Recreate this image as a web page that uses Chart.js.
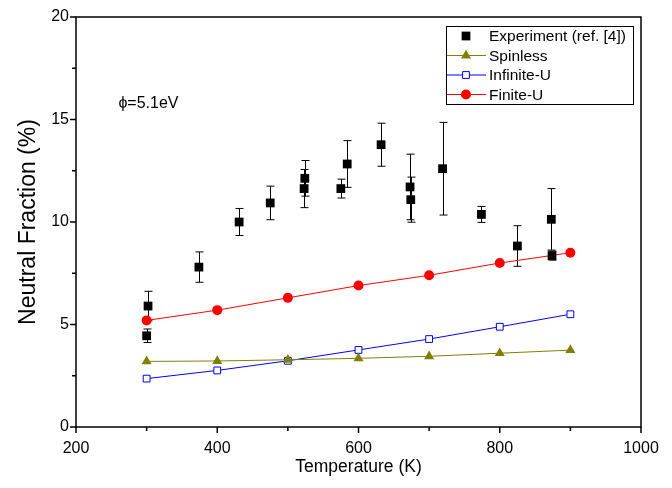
<!DOCTYPE html>
<html>
<head>
<meta charset="utf-8">
<title>Neutral Fraction vs Temperature</title>
<script src="https://cdn.jsdelivr.net/npm/chart.js"></script>
<style>
  html, body { margin: 0; padding: 0; background: #fff; }
</style>
</head>
<body>
<canvas id="nfChart" width="672" height="488"></canvas>
<script>
// model curves, one value per temperature
const temps = [300, 400, 500, 600, 700, 800, 900];
const spinless = [3.2, 3.22, 3.28, 3.35, 3.45, 3.6, 3.75];
const infiniteU = [2.36, 2.76, 3.23, 3.76, 4.29, 4.89, 5.5];
const finiteU = [5.2, 5.7, 6.3, 6.9, 7.4, 8.0, 8.5];

// measured points with symmetric error bars
const expTemps = [300, 302, 374, 431, 475, 523, 524, 575, 584, 632, 673, 674, 719, 774, 825, 873, 874];
const expValues = [4.45, 5.9, 7.8, 10.0, 10.93, 11.63, 12.13, 11.63, 12.83, 13.77, 11.71, 11.09, 12.6, 10.37, 8.83, 10.13, 8.36];
const expErrors = [0.33, 0.72, 0.74, 0.66, 0.82, 0.93, 0.87, 0.46, 1.14, 1.05, 1.6, 1.1, 2.26, 0.39, 0.99, 1.5, 0.22];

const xTicks = [200, 400, 600, 800, 1000];
const yTicks = [0, 5, 10, 15, 20];

const FONT = "'Liberation Sans', Arial, sans-serif";

function pts(xs, ys) {
  return xs.map((x, i) => ({ x: x, y: ys[i] }));
}

// error bars under the experiment markers
const errorBars = {
  id: 'errorBars',
  beforeDatasetsDraw(chart) {
    const { ctx, scales: { x, y } } = chart;
    ctx.save();
    ctx.strokeStyle = '#000';
    ctx.lineWidth = 1;
    expTemps.forEach((t, i) => {
      const px = Math.round(x.getPixelForValue(t)) + 0.5;
      const top = y.getPixelForValue(expValues[i] + expErrors[i]);
      const bot = y.getPixelForValue(expValues[i] - expErrors[i]);
      ctx.beginPath();
      ctx.moveTo(px, top); ctx.lineTo(px, bot);
      ctx.moveTo(px - 4, top); ctx.lineTo(px + 4, top);
      ctx.moveTo(px - 4, bot); ctx.lineTo(px + 4, bot);
      ctx.stroke();
    });
    ctx.restore();
  }
};

// box frame, outward ticks, inline legend and the work-function note
const frame = {
  id: 'frame',
  afterDraw(chart) {
    const { ctx, chartArea: a, scales: { x, y } } = chart;
    ctx.save();
    ctx.strokeStyle = '#000';
    ctx.lineWidth = 1.5;
    ctx.strokeRect(a.left, a.top, a.right - a.left, a.bottom - a.top);

    ctx.beginPath();
    for (let v = x.min; v <= x.max; v += 100) {
      const px = x.getPixelForValue(v);
      const len = xTicks.includes(v) ? 6 : 4;
      ctx.moveTo(px, a.bottom); ctx.lineTo(px, a.bottom + len);
    }
    for (let v = y.min; v <= y.max; v += 2.5) {
      const py = y.getPixelForValue(v);
      const len = yTicks.includes(v) ? 6 : 4;
      ctx.moveTo(a.left, py); ctx.lineTo(a.left - len, py);
    }
    ctx.stroke();

    // legend
    const lx = 446, ly = 26, lw = 187, lh = 78, row = 19.5;
    ctx.fillStyle = '#fff';
    ctx.fillRect(lx, ly, lw, lh);
    ctx.lineWidth = 1;
    ctx.strokeStyle = '#000';
    ctx.strokeRect(lx + 0.5, ly + 0.5, lw, lh);
    ctx.textBaseline = 'middle';
    chart.data.datasets.forEach((ds, i) => {
      const cy = ly + 10 + i * row;
      if (ds.showLine !== false) {
        ctx.strokeStyle = ds.borderColor;
        ctx.lineWidth = 1;
        ctx.beginPath();
        ctx.moveTo(lx + 1, cy); ctx.lineTo(lx + 40, cy);
        ctx.stroke();
      }
      ctx.fillStyle = ds.pointBackgroundColor;
      ctx.strokeStyle = ds.pointBorderColor;
      ctx.lineWidth = ds.pointBorderWidth;
      Chart.helpers.drawPoint(ctx, {
        pointStyle: ds.pointStyle,
        radius: ds.pointRadius,
        borderWidth: ds.pointBorderWidth
      }, lx + 20, cy);
      ctx.fillStyle = '#000';
      ctx.font = '15.5px ' + FONT;
      ctx.fillText(ds.label, lx + 43, cy + 1);
    });

    ctx.font = '16px ' + FONT;
    ctx.fillStyle = '#000';
    ctx.textBaseline = 'middle';
    ctx.fillText('\u03d5=5.1eV', x.getPixelForValue(260), y.getPixelForValue(15.8));
    ctx.restore();
  }
};

const datasets = [
  {
    label: 'Experiment (ref. [4])',
    data: pts(expTemps, expValues),
    showLine: false,
    pointStyle: 'rect',
    pointRadius: 6.2,
    pointBorderWidth: 0,
    pointBackgroundColor: '#000',
    pointBorderColor: '#000',
    borderColor: '#000'
  },
  {
    label: 'Spinless',
    data: pts(temps, spinless),
    borderColor: '#808000',
    borderWidth: 1,
    pointStyle: 'triangle',
    pointRadius: 5.8,
    pointBorderWidth: 0,
    pointBackgroundColor: '#808000',
    pointBorderColor: '#808000'
  },
  {
    label: 'Infinite-U',
    data: pts(temps, infiniteU),
    borderColor: '#0000ff',
    borderWidth: 1,
    pointStyle: 'rect',
    pointRadius: 4.8,
    pointBorderWidth: 1,
    pointBackgroundColor: '#fff',
    pointBorderColor: '#0000ff'
  },
  {
    label: 'Finite-U',
    data: pts(temps, finiteU),
    borderColor: '#ff0000',
    borderWidth: 1,
    pointStyle: 'circle',
    pointRadius: 5,
    pointBorderWidth: 0,
    pointBackgroundColor: '#ff0000',
    pointBorderColor: '#ff0000'
  }
];

new Chart(document.getElementById('nfChart'), {
  type: 'line',
  data: { datasets: datasets },
  options: {
    responsive: false,
    animation: false,
    devicePixelRatio: 1,
    layout: { padding: { top: 17, right: 31, left: 0, bottom: 0 } },
    plugins: { legend: { display: false }, tooltip: { enabled: false } },
    scales: {
      x: {
        type: 'linear',
        min: 200,
        max: 1000,
        afterFit: s => { s.height = 61; },
        afterBuildTicks: s => { s.ticks = xTicks.map(v => ({ value: v })); },
        grid: { display: false, drawTicks: false },
        border: { display: false },
        ticks: {
          color: '#000', padding: 12, maxRotation: 0,
          font: { family: FONT, size: 16 },
          callback: v => String(v)
        },
        title: {
          display: true,
          text: 'Temperature (K)',
          color: '#000',
          font: { family: FONT, size: 17.5 },
          padding: { top: 0, bottom: 10 }
        }
      },
      y: {
        type: 'linear',
        min: 0,
        max: 20,
        afterFit: s => { s.width = 76; },
        afterBuildTicks: s => { s.ticks = yTicks.map(v => ({ value: v })); },
        grid: { display: false, drawTicks: false },
        border: { display: false },
        ticks: {
          color: '#000', padding: 7,
          font: { family: FONT, size: 16 },
          callback: v => String(v)
        },
        title: {
          display: true,
          text: 'Neutral Fraction (%)',
          color: '#000',
          font: { family: FONT, size: 23 },
          padding: { top: 15, bottom: 0 }
        }
      }
    }
  },
  plugins: [errorBars, frame]
});
</script>
</body>
</html>
